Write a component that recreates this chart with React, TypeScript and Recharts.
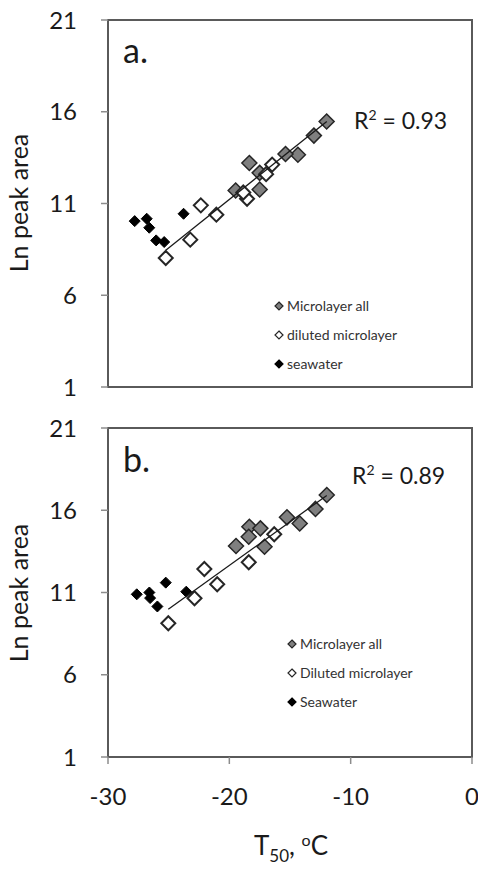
import React from 'react';
import { ScatterChart, Scatter, XAxis, YAxis, ReferenceArea, Customized, Legend } from 'recharts';

const FONT = 'Lato, "Open Sans", "DejaVu Sans", sans-serif';

// ---- data (T50 in °C, Ln peak area) ----
const microA = [
  { x: -11.98, y: 15.47 }, { x: -13.03, y: 14.7 }, { x: -14.35, y: 13.66 }, { x: -15.37, y: 13.7 },
  { x: -18.35, y: 13.21 }, { x: -17.5, y: 12.67 }, { x: -19.48, y: 11.71 }, { x: -17.5, y: 11.76 },
];
const dilutedA = [
  { x: -16.47, y: 13.12 }, { x: -16.97, y: 12.6 }, { x: -18.54, y: 11.26 }, { x: -18.85, y: 11.6 },
  { x: -22.35, y: 10.9 }, { x: -21.07, y: 10.39 }, { x: -23.22, y: 9.03 }, { x: -25.24, y: 8.03 },
];
const seawaterA = [
  { x: -27.8, y: 10.04 }, { x: -26.81, y: 10.17 }, { x: -26.6, y: 9.68 }, { x: -26.03, y: 8.99 },
  { x: -25.37, y: 8.9 }, { x: -23.77, y: 10.44 },
];
const trendA = [{ x: -25.24, y: 8.45 }, { x: -11.97, y: 15.47 }];

const microB = [
  { x: -11.97, y: 16.93 }, { x: -12.9, y: 16.08 }, { x: -14.2, y: 15.2 }, { x: -15.25, y: 15.57 },
  { x: -18.35, y: 15.0 }, { x: -17.44, y: 14.9 }, { x: -18.4, y: 14.39 }, { x: -17.1, y: 13.78 },
  { x: -19.45, y: 13.83 },
];
const dilutedB = [
  { x: -16.3, y: 14.54 }, { x: -18.4, y: 12.84 }, { x: -22.06, y: 12.43 }, { x: -21.0, y: 11.5 },
  { x: -22.87, y: 10.65 }, { x: -25.03, y: 9.13 },
];
const seawaterB = [
  { x: -27.63, y: 10.89 }, { x: -26.59, y: 11.0 }, { x: -26.53, y: 10.66 }, { x: -25.93, y: 10.15 },
  { x: -25.24, y: 11.6 }, { x: -23.55, y: 11.05 },
];
const trendB = [{ x: -25.03, y: 9.98 }, { x: -11.97, y: 16.9 }];

const xTicks = [-30, -20, -10, 0];
const yTicks = [1, 6, 11, 16, 21];
const legendA = ['Microlayer all', 'diluted microlayer', 'seawater'];
const legendB = ['Microlayer all', 'Diluted microlayer', 'Seawater'];
const r2A = '0.93';
const r2B = '0.89';

const STYLES = [
  { fill: '#7f7f7f', stroke: '#262626', sw: 1.5, r: 7.5 },
  { fill: '#ffffff', stroke: '#262626', sw: 2, r: 7 },
  { fill: '#000000', stroke: '#000000', sw: 1, r: 5.5 },
];

const makeDiamond = (s: { fill: string; stroke: string; sw: number; r: number }) => (props: any) => {
  const { cx, cy } = props;
  if (cx == null || cy == null) return <g />;
  const r = s.r;
  return (
    <polygon
      points={`${cx},${cy - r} ${cx + r},${cy} ${cx},${cy + r} ${cx - r},${cy}`}
      fill={s.fill}
      stroke={s.stroke}
      strokeWidth={s.sw}
    />
  );
};

const LegendBox = ({ labels }: { labels: string[] }) => (
  <div style={{ fontFamily: FONT, fontSize: 14, color: '#333' }}>
    {labels.map((l, i) => {
      const s = STYLES[i];
      return (
        <div key={l} style={{ display: 'flex', alignItems: 'center', height: 29 }}>
          <svg width={10} height={10} style={{ marginRight: 3 }}>
            <polygon points="5,1 9,5 5,9 1,5" fill={s.fill} stroke={s.stroke} strokeWidth={1.2} />
          </svg>
          <span>{l}</span>
        </div>
      );
    })}
  </div>
);

type PanelProps = {
  micro: { x: number; y: number }[];
  diluted: { x: number; y: number }[];
  seawater: { x: number; y: number }[];
  trend: { x: number; y: number }[];
  legend: string[];
  r2: string;
  tag: string;
  height: number;
  top: number;
  marginTop: number;
  xAxisHeight: number;
  showXLabels: boolean;
  legendPos: { left: number; top: number };
  tagY: number;
  r2Y: number;
  r2X: number;
  yLabelY: number;
};

const Panel = (p: PanelProps) => (
  <div style={{ position: 'absolute', left: 0, top: p.top, width: 478, height: p.height }}>
    <ScatterChart
      width={478}
      height={p.height}
      margin={{ top: p.marginTop, right: 6, bottom: 0, left: 0 }}
      style={{ overflow: 'visible' }}
    >
      <XAxis
        type="number"
        dataKey="x"
        domain={[-30, 0]}
        ticks={xTicks}
        interval={0}
        allowDataOverflow
        height={p.xAxisHeight}
        axisLine={false}
        tickLine={{ stroke: '#8c8c8c', strokeWidth: 1.5 }}
        tickSize={7}
        tickMargin={24}
        tick={p.showXLabels ? { fill: '#1a1a1a', fontSize: 24, fontFamily: FONT } : false}
      />
      <YAxis
        type="number"
        dataKey="y"
        domain={[1, 21]}
        ticks={yTicks}
        interval={0}
        allowDataOverflow
        width={108}
        axisLine={false}
        tickLine={{ stroke: '#8c8c8c', strokeWidth: 1.5 }}
        tickSize={7}
        tickMargin={24}
        tick={{ fill: '#1a1a1a', fontSize: 24, fontFamily: FONT }}
      />
      <ReferenceArea
        x1={-30}
        x2={0}
        y1={1}
        y2={21}
        fill="none"
        stroke="#5a5a5a"
        strokeWidth={2}
        ifOverflow="visible"
      />
      <Scatter data={p.micro} shape={makeDiamond(STYLES[0])} isAnimationActive={false} />
      <Scatter data={p.diluted} shape={makeDiamond(STYLES[1])} isAnimationActive={false} />
      <Scatter data={p.seawater} shape={makeDiamond(STYLES[2])} isAnimationActive={false} />
      <Scatter
        data={p.trend}
        line={{ stroke: '#1a1a1a', strokeWidth: 1.3 }}
        shape={() => <g />}
        isAnimationActive={false}
        legendType="none"
      />
      <Legend
        layout="vertical"
        align="center"
        verticalAlign="middle"
        wrapperStyle={{ position: 'absolute', left: p.legendPos.left, top: p.legendPos.top, width: 'auto' }}
        content={() => <LegendBox labels={p.legend} />}
      />
      <Customized
        component={() => (
          <g fontFamily={FONT}>
            <text x={123} y={p.tagY} fontSize={34} fill="#1a1a1a">{p.tag}</text>
            <text x={p.r2X} y={p.r2Y} fontSize={23} fill="#1a1a1a">
              R<tspan fontSize={14} dy={-9}>2</tspan>
              <tspan dy={9}> = {p.r2}</tspan>
            </text>
            <text
              x={18}
              y={p.yLabelY}
              fontSize={25}
              fill="#1a1a1a"
              textAnchor="middle"
              dominantBaseline="central"
              transform={`rotate(-90, 18, ${p.yLabelY})`}
            >
              Ln peak area
            </text>
            {p.showXLabels && (
              <text x={291} y={455} fontSize={26} fill="#1a1a1a" textAnchor="middle">
                T<tspan fontSize={17} dy={7}>50</tspan>
                <tspan dy={-7}>, </tspan>
                <tspan fontSize={16} dy={-9}>o</tspan>
                <tspan dy={9}>C</tspan>
              </text>
            )}
          </g>
        )}
      />
    </ScatterChart>
  </div>
);

export default function App() {
  return (
    <div style={{ position: 'absolute', left: 0, top: 0, width: 478, height: 892, background: '#fff' }}>
      <Panel
        micro={microB}
        diluted={dilutedB}
        seawater={seawaterB}
        trend={trendB}
        legend={legendB}
        r2={r2B}
        tag="b."
        height={492}
        top={400}
        marginTop={28}
        xAxisHeight={135}
        showXLabels={true}
        legendPos={{ left: 287, top: 229 }}
        tagY={72}
        r2Y={84}
        r2X={352}
        yLabelY={193}
      />
      <Panel
        micro={microA}
        diluted={dilutedA}
        seawater={seawaterA}
        trend={trendA}
        legend={legendA}
        r2={r2A}
        tag="a."
        height={400}
        top={0}
        marginTop={20}
        xAxisHeight={13}
        showXLabels={false}
        legendPos={{ left: 274, top: 291 }}
        tagY={63}
        r2Y={129}
        r2X={354}
        yLabelY={203}
      />
    </div>
  );
}
